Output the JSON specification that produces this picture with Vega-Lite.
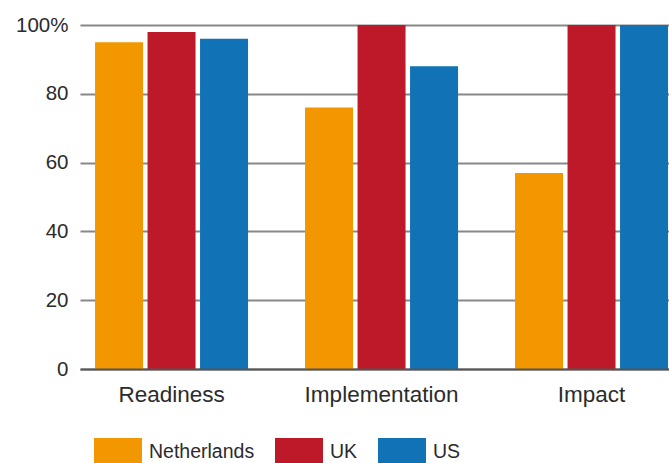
{
  "$schema": "https://vega.github.io/schema/vega-lite/v6.json",
  "width": 589,
  "height": 344,
  "autosize": {"type": "none"},
  "padding": {"left": 80, "top": 25, "right": 0, "bottom": 94},
  "background": "white",
  "data": {
    "values": [
      {"category": "Readiness", "country": "Netherlands", "value": 95},
      {"category": "Readiness", "country": "UK", "value": 98},
      {"category": "Readiness", "country": "US", "value": 96},
      {"category": "Implementation", "country": "Netherlands", "value": 76},
      {"category": "Implementation", "country": "UK", "value": 100},
      {"category": "Implementation", "country": "US", "value": 88},
      {"category": "Impact", "country": "Netherlands", "value": 57},
      {"category": "Impact", "country": "UK", "value": 100},
      {"category": "Impact", "country": "US", "value": 100}
    ]
  },
  "config": {
    "view": {"stroke": null},
    "font": "Liberation Sans"
  },
  "mark": {"type": "bar"},
  "encoding": {
    "x": {
      "field": "category",
      "type": "nominal",
      "sort": ["Readiness", "Implementation", "Impact"],
      "scale": {"paddingInner": 0.2714, "paddingOuter": 0.0381, "align": 0.94},
      "axis": {
        "title": null,
        "labelAngle": 0,
        "ticks": false,
        "labelFontSize": 22.5,
        "labelColor": "#2b2b2b",
        "labelPadding": 14,
        "domainColor": "#555555",
        "domainWidth": 2,
        "zindex": 1
      }
    },
    "xOffset": {
      "field": "country",
      "type": "nominal",
      "sort": ["Netherlands", "UK", "US"],
      "scale": {"paddingInner": 0.0857, "paddingOuter": 0}
    },
    "y": {
      "field": "value",
      "type": "quantitative",
      "scale": {"domain": [0, 100], "nice": false},
      "axis": {
        "title": null,
        "values": [0, 20, 40, 60, 80, 100],
        "labelExpr": "datum.value == 100 ? '100%' : datum.label",
        "domain": false,
        "ticks": false,
        "labelFontSize": 20.5,
        "labelColor": "#2b2b2b",
        "labelPadding": 12,
        "gridColor": "#888888",
        "gridWidth": 1.8
      }
    },
    "color": {
      "field": "country",
      "type": "nominal",
      "sort": ["Netherlands", "UK", "US"],
      "scale": {"domain": ["Netherlands", "UK", "US"], "range": ["#F39700", "#BE1929", "#1172B5"]},
      "legend": {
        "title": null,
        "orient": "none",
        "direction": "horizontal",
        "legendX": 14,
        "legendY": 403,
        "padding": 0,
        "symbolType": "M-1,-0.6H1V0.6H-1Z",
        "symbolSize": 2304,
        "symbolStrokeWidth": 0,
        "symbolOpacity": 1,
        "labelFontSize": 19.5,
        "labelColor": "#2b2b2b",
        "labelOffset": 7,
        "columnPadding": 20
      }
    }
  }
}
